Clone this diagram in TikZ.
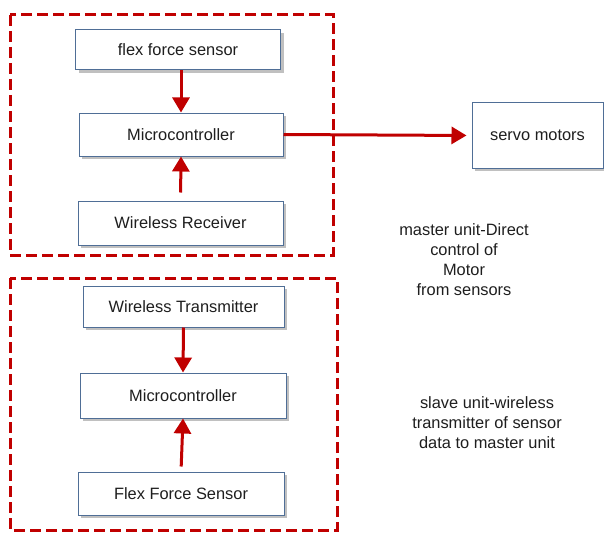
\documentclass[tikz,border=0pt]{standalone}
\usepackage{fontspec}
\setmainfont{Liberation Sans}
\usetikzlibrary{arrows.meta,shadows}

\begin{document}
\begin{tikzpicture}[x=1pt,y=-1pt]

% ------------------------------------------------ diagram colors
\definecolor{bd_red}{RGB}{192,0,0}      %#C00000
\definecolor{bd_blue}{RGB}{79,110,150}  %#4F6E96
\definecolor{bd_text}{RGB}{30,30,30}    %#1E1E1E
\definecolor{bd_shade}{RGB}{150,150,150}

\tikzset{
  unitbox/.style={draw=bd_red,line width=3pt,dash pattern=on 11pt off 5pt},
  blockbox/.style={draw=bd_blue,fill=white,line width=1pt,text=bd_text,
    font=\fontsize{16.4}{20}\selectfont,
    drop shadow={shadow xshift=3pt,shadow yshift=-3pt,fill=bd_shade,opacity=0.6}},
  redarrow/.style={draw=bd_red,line width=3pt,-{Triangle[width=17pt,length=15pt]}},
  note/.style={align=center,text=bd_text,font=\fontsize{16.4}{20}\selectfont}
}

\useasboundingbox (0,0) rectangle (604,532);

% ------------------------------------------------ master unit
\draw[unitbox] (10,15) rectangle (333,255);

\node[blockbox,minimum width=205pt,minimum height=40pt] (flex) at (178,50) {flex force sensor};
\node[blockbox,minimum width=204pt,minimum height=43pt] (mcu_m) at (181,134.5) {Microcontroller};
\node[blockbox,minimum width=205pt,minimum height=44pt] (rx) at (180.5,223) {Wireless Receiver};
\node[blockbox,minimum width=131pt,minimum height=65pt] (servo) at (537.5,135.5) {servo motors};

\draw[redarrow] (flex.south -| mcu_m.north) -- (mcu_m.north);
\draw[redarrow,shorten <=8pt] (rx.north) -- (mcu_m.south);
\draw[redarrow,shorten >=5pt] (mcu_m.east) -- (servo.west);

% ------------------------------------------------ slave unit
\draw[unitbox] (10,278) rectangle (337,530);

\node[blockbox,minimum width=201pt,minimum height=41pt] (tx) at (183.5,306.5) {Wireless Transmitter};
\node[blockbox,minimum width=206pt,minimum height=45pt] (mcu_s) at (183,395.5) {Microcontroller};
\node[blockbox,minimum width=206pt,minimum height=43pt] (ffs) at (181,493.5) {Flex Force Sensor};

\draw[redarrow] (tx.south) -- (mcu_s.north);
\draw[redarrow,shorten <=5pt] (ffs.north) -- (mcu_s.south);

% ------------------------------------------------ notes
\node[note] (note_m) at (464,260) {master unit-Direct\\control of\\Motor\\from sensors};
\node[note] (note_s) at (487,423) {slave unit-wireless\\transmitter of sensor\\data to master unit};

\end{tikzpicture}
\end{document}
